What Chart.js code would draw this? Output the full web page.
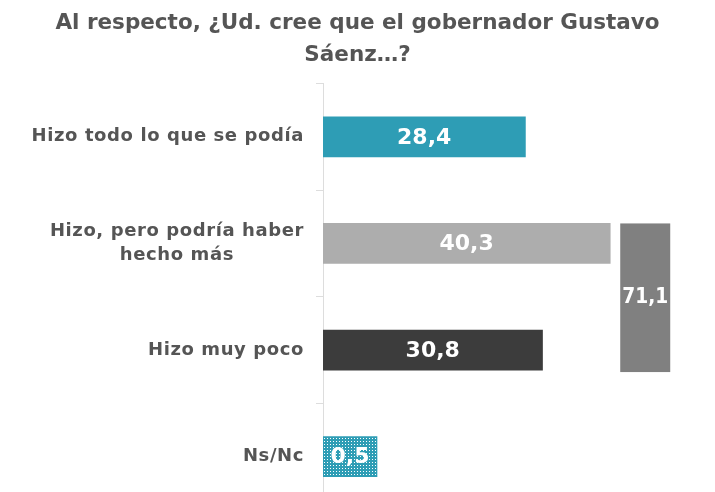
<!DOCTYPE html>
<html>
<head>
<meta charset="utf-8">
<script src="https://cdn.jsdelivr.net/npm/chart.js@4.4.1/dist/chart.umd.min.js"></script>
<style>
  html, body { margin: 0; padding: 0; background: #fff; overflow: hidden; }
</style>
</head>
<body>
<canvas id="chart" width="715" height="510"></canvas>
<script>
// data
const titleLines = ['Al respecto, ¿Ud. cree que el gobernador Gustavo', 'Sáenz…?'];
const categories = [
  ['Hizo todo lo que se podía'],
  ['Hizo, pero podría haber', 'hecho más'],
  ['Hizo muy poco'],
  ['Ns/Nc']
];
const values = [28.4, 40.3, 30.8, 0.5];
// side bar that groups rows 2 and 3
const groupRows = [1, 2];
const groupTotal = 71.1;

const FONT = '"DejaVu Sans", sans-serif';
const TXT = '#555555';
const fmt = v => v.toFixed(1).replace('.', ',');

// dotted fill for the Ns/Nc bar
function dots() {
  const c = document.createElement('canvas');
  c.width = 3; c.height = 3;
  const g = c.getContext('2d');
  g.fillStyle = '#2e9db5';
  g.fillRect(0, 0, 3, 3);
  g.fillStyle = '#ffffff';
  g.fillRect(0, 0, 1, 1);
  return g.createPattern(c, 'repeat');
}
const barColors = ['#2e9db5', '#adadad', '#3c3c3c', dots()];

const overlay = {
  id: 'overlay',
  afterDatasetsDraw(chart) {
    const ctx = chart.ctx;
    const meta = chart.getDatasetMeta(0);
    const xs = chart.scales.x, ys = chart.scales.y;
    ctx.save();

    // grouped total bar
    const a = meta.data[groupRows[0]], b = meta.data[groupRows[1]];
    const top = a.y - a.height / 2;
    const bottom = b.y + b.height / 2 + 2;
    const left = xs.getPixelForValue(Math.max(...groupRows.map(i => values[i]))) + 10;
    ctx.fillStyle = '#808080';
    ctx.fillRect(left, top, 50, bottom - top);

    // values inside bars
    ctx.font = 'bold 22px ' + FONT;
    ctx.fillStyle = '#ffffff';
    ctx.textAlign = 'center';
    ctx.textBaseline = 'middle';
    meta.data.forEach((bar, i) => {
      ctx.fillText(fmt(values[i]), (bar.base + bar.x) / 2, bar.y + 1);
    });
    ctx.fillText(fmt(groupTotal), left + 25, (top + bottom) / 2, 46);

    // category labels: block right aligned, lines centred
    ctx.font = 'bold 18px ' + FONT;
    ctx.letterSpacing = '0.6px';
    ctx.fillStyle = TXT;
    categories.forEach((lines, i) => {
      const cy = ys.getPixelForValue(i);
      const w = Math.max(...lines.map(l => ctx.measureText(l).width));
      const cx = ys.right - 19 - w / 2;
      lines.forEach((l, j) => {
        ctx.fillText(l, cx, cy + (j - (lines.length - 1) / 2) * 24);
      });
    });
    ctx.restore();
  }
};

new Chart(document.getElementById('chart'), {
  type: 'bar',
  data: {
    labels: categories,
    datasets: [{
      data: values,
      backgroundColor: barColors,
      barThickness: 40,
      minBarLength: 54
    }]
  },
  options: {
    indexAxis: 'y',
    responsive: false,
    animation: false,
    layout: { padding: { left: 0, right: 0, top: 0, bottom: 0 } },
    plugins: {
      legend: { display: false },
      tooltip: { enabled: false },
      title: {
        display: true,
        text: titleLines,
        color: TXT,
        font: { family: FONT, size: 21.5, weight: 'bold', lineHeight: 1.5 },
        padding: { top: 7, bottom: 12 }
      }
    },
    scales: {
      x: { display: false, min: 0, max: 55 },
      y: {
        offset: true,
        grid: {
          offset: true,
          drawOnChartArea: false,
          drawTicks: true,
          tickLength: 7,
          color: '#dddddd'
        },
        border: { color: '#dddddd' },
        ticks: { display: false },
        afterFit(scale) { scale.width = 323; }
      }
    }
  },
  plugins: [overlay]
});
</script>
</body>
</html>
